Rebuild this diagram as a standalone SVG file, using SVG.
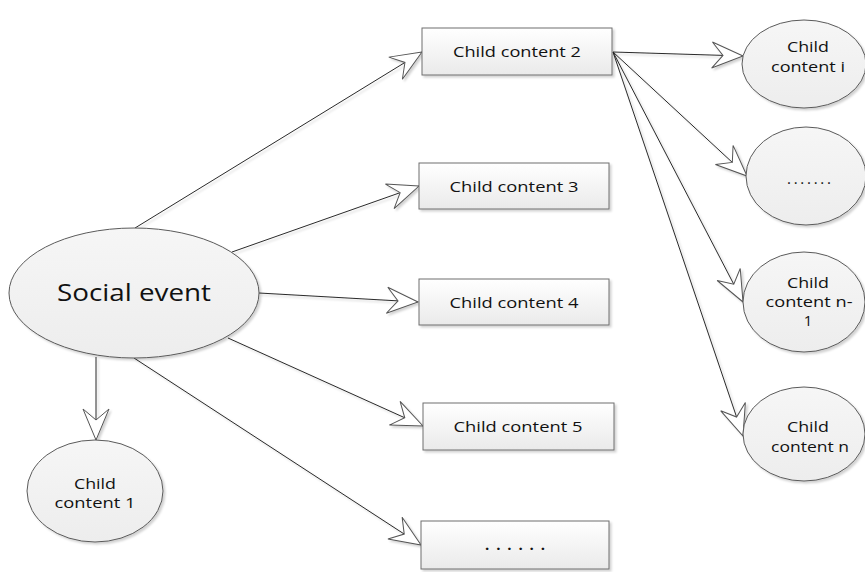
<svg xmlns="http://www.w3.org/2000/svg" width="865" height="572" viewBox="0 0 865 572">
<style>
.bg{fill:#ffffff}
.box{fill:url(#gBox);stroke:#6e6e6e;stroke-width:1}
.ell{fill:url(#gEll);stroke:#5a5a5a;stroke-width:1}
.t{font-family:"Open Sans","Liberation Sans",sans-serif;font-size:15px;fill:#111;text-anchor:middle}
.big{font-size:24px}
.con line{stroke:#2a2a2a;stroke-width:1;fill:none;marker-end:url(#arr)}
</style>
<defs>
<linearGradient id="gBox" x1="0" y1="0" x2="0" y2="1">
<stop offset="0" stop-color="#ffffff"/>
<stop offset="1" stop-color="#eaeaea"/>
</linearGradient>
<linearGradient id="gEll" x1="0" y1="0" x2="0" y2="1">
<stop offset="0" stop-color="#f6f6f6"/>
<stop offset="1" stop-color="#ededed"/>
</linearGradient>
<filter id="sh" x="-10%" y="-10%" width="130%" height="130%">
<feDropShadow dx="2" dy="2" stdDeviation="1.2" flood-color="#000" flood-opacity="0.18"/>
</filter>
<marker id="arr" viewBox="-1 -1 34 28" refX="31" refY="13" markerWidth="34" markerHeight="28" markerUnits="userSpaceOnUse" orient="auto">
<path d="M31,13 L0,0 L11,13 L0,26 Z" fill="#ffffff" stroke="#555555" stroke-width="1" stroke-linejoin="miter"/>
</marker>
</defs>
<rect class="bg" x="0" y="0" width="865" height="572"/>
<g id="connectors" class="con" filter="url(#sh)">
<line x1="135" y1="228" x2="422" y2="52"/>
<line x1="232" y1="252" x2="419" y2="186"/>
<line x1="259" y1="293" x2="418" y2="302"/>
<line x1="228" y1="338" x2="423" y2="426"/>
<line x1="134" y1="358" x2="421" y2="545"/>
<line x1="96" y1="357" x2="96" y2="440"/>
<line x1="613" y1="52" x2="743" y2="56"/>
<line x1="613" y1="52" x2="747" y2="176"/>
<line x1="613" y1="52" x2="743" y2="302"/>
<line x1="613" y1="52" x2="743" y2="436"/>
</g>
<g id="social">
<ellipse class="ell" cx="134" cy="293" rx="125" ry="65" filter="url(#sh)"/>
<text class="t big" x="134" y="301" textLength="154" lengthAdjust="spacingAndGlyphs">Social event</text>
</g>
<g id="cc2">
<rect class="box" x="422" y="28" width="190" height="47" filter="url(#sh)"/>
<text class="t" x="517" y="57" textLength="128" lengthAdjust="spacingAndGlyphs">Child content 2</text>
</g>
<g id="cc3">
<rect class="box" x="419" y="163" width="190" height="46" filter="url(#sh)"/>
<text class="t" x="514" y="192" textLength="129" lengthAdjust="spacingAndGlyphs">Child content 3</text>
</g>
<g id="cc4">
<rect class="box" x="419" y="279" width="190" height="46" filter="url(#sh)"/>
<text class="t" x="514" y="308" textLength="129" lengthAdjust="spacingAndGlyphs">Child content 4</text>
</g>
<g id="cc5">
<rect class="box" x="423" y="403" width="191" height="47" filter="url(#sh)"/>
<text class="t" x="518" y="432" textLength="129" lengthAdjust="spacingAndGlyphs">Child content 5</text>
</g>
<g id="more">
<rect class="box" x="421" y="521" width="188" height="48" filter="url(#sh)"/>
<text class="t" x="515" y="550" font-weight="bold" font-size="18" textLength="60" lengthAdjust="spacing">......</text>
</g>
<g id="cc1">
<ellipse class="ell" cx="95" cy="491" rx="68" ry="51" filter="url(#sh)"/>
<text class="t" x="95" y="489" textLength="42" lengthAdjust="spacingAndGlyphs">Child</text>
<text class="t" x="95" y="508" textLength="81" lengthAdjust="spacingAndGlyphs">content 1</text>
</g>
<g id="cci">
<ellipse class="ell" cx="804" cy="64" rx="62" ry="44" filter="url(#sh)"/>
<text class="t" x="808" y="52" textLength="42" lengthAdjust="spacingAndGlyphs">Child</text>
<text class="t" x="808" y="72" textLength="74" lengthAdjust="spacingAndGlyphs">content i</text>
</g>
<g id="ccdots">
<ellipse class="ell" cx="806" cy="176" rx="60" ry="49" filter="url(#sh)"/>
<text class="t" x="809" y="184" textLength="44" lengthAdjust="spacing">.......</text>
</g>
<g id="ccn1">
<ellipse class="ell" cx="804" cy="302" rx="61" ry="50" filter="url(#sh)"/>
<text class="t" x="808" y="288" textLength="42" lengthAdjust="spacingAndGlyphs">Child</text>
<text class="t" x="809" y="307" textLength="87" lengthAdjust="spacingAndGlyphs">content n-</text>
<text class="t" x="808" y="326">1</text>
</g>
<g id="ccn">
<ellipse class="ell" cx="804" cy="434" rx="61" ry="47" filter="url(#sh)"/>
<text class="t" x="808" y="432" textLength="42" lengthAdjust="spacingAndGlyphs">Child</text>
<text class="t" x="810" y="452" textLength="78" lengthAdjust="spacingAndGlyphs">content n</text>
</g>
</svg>
